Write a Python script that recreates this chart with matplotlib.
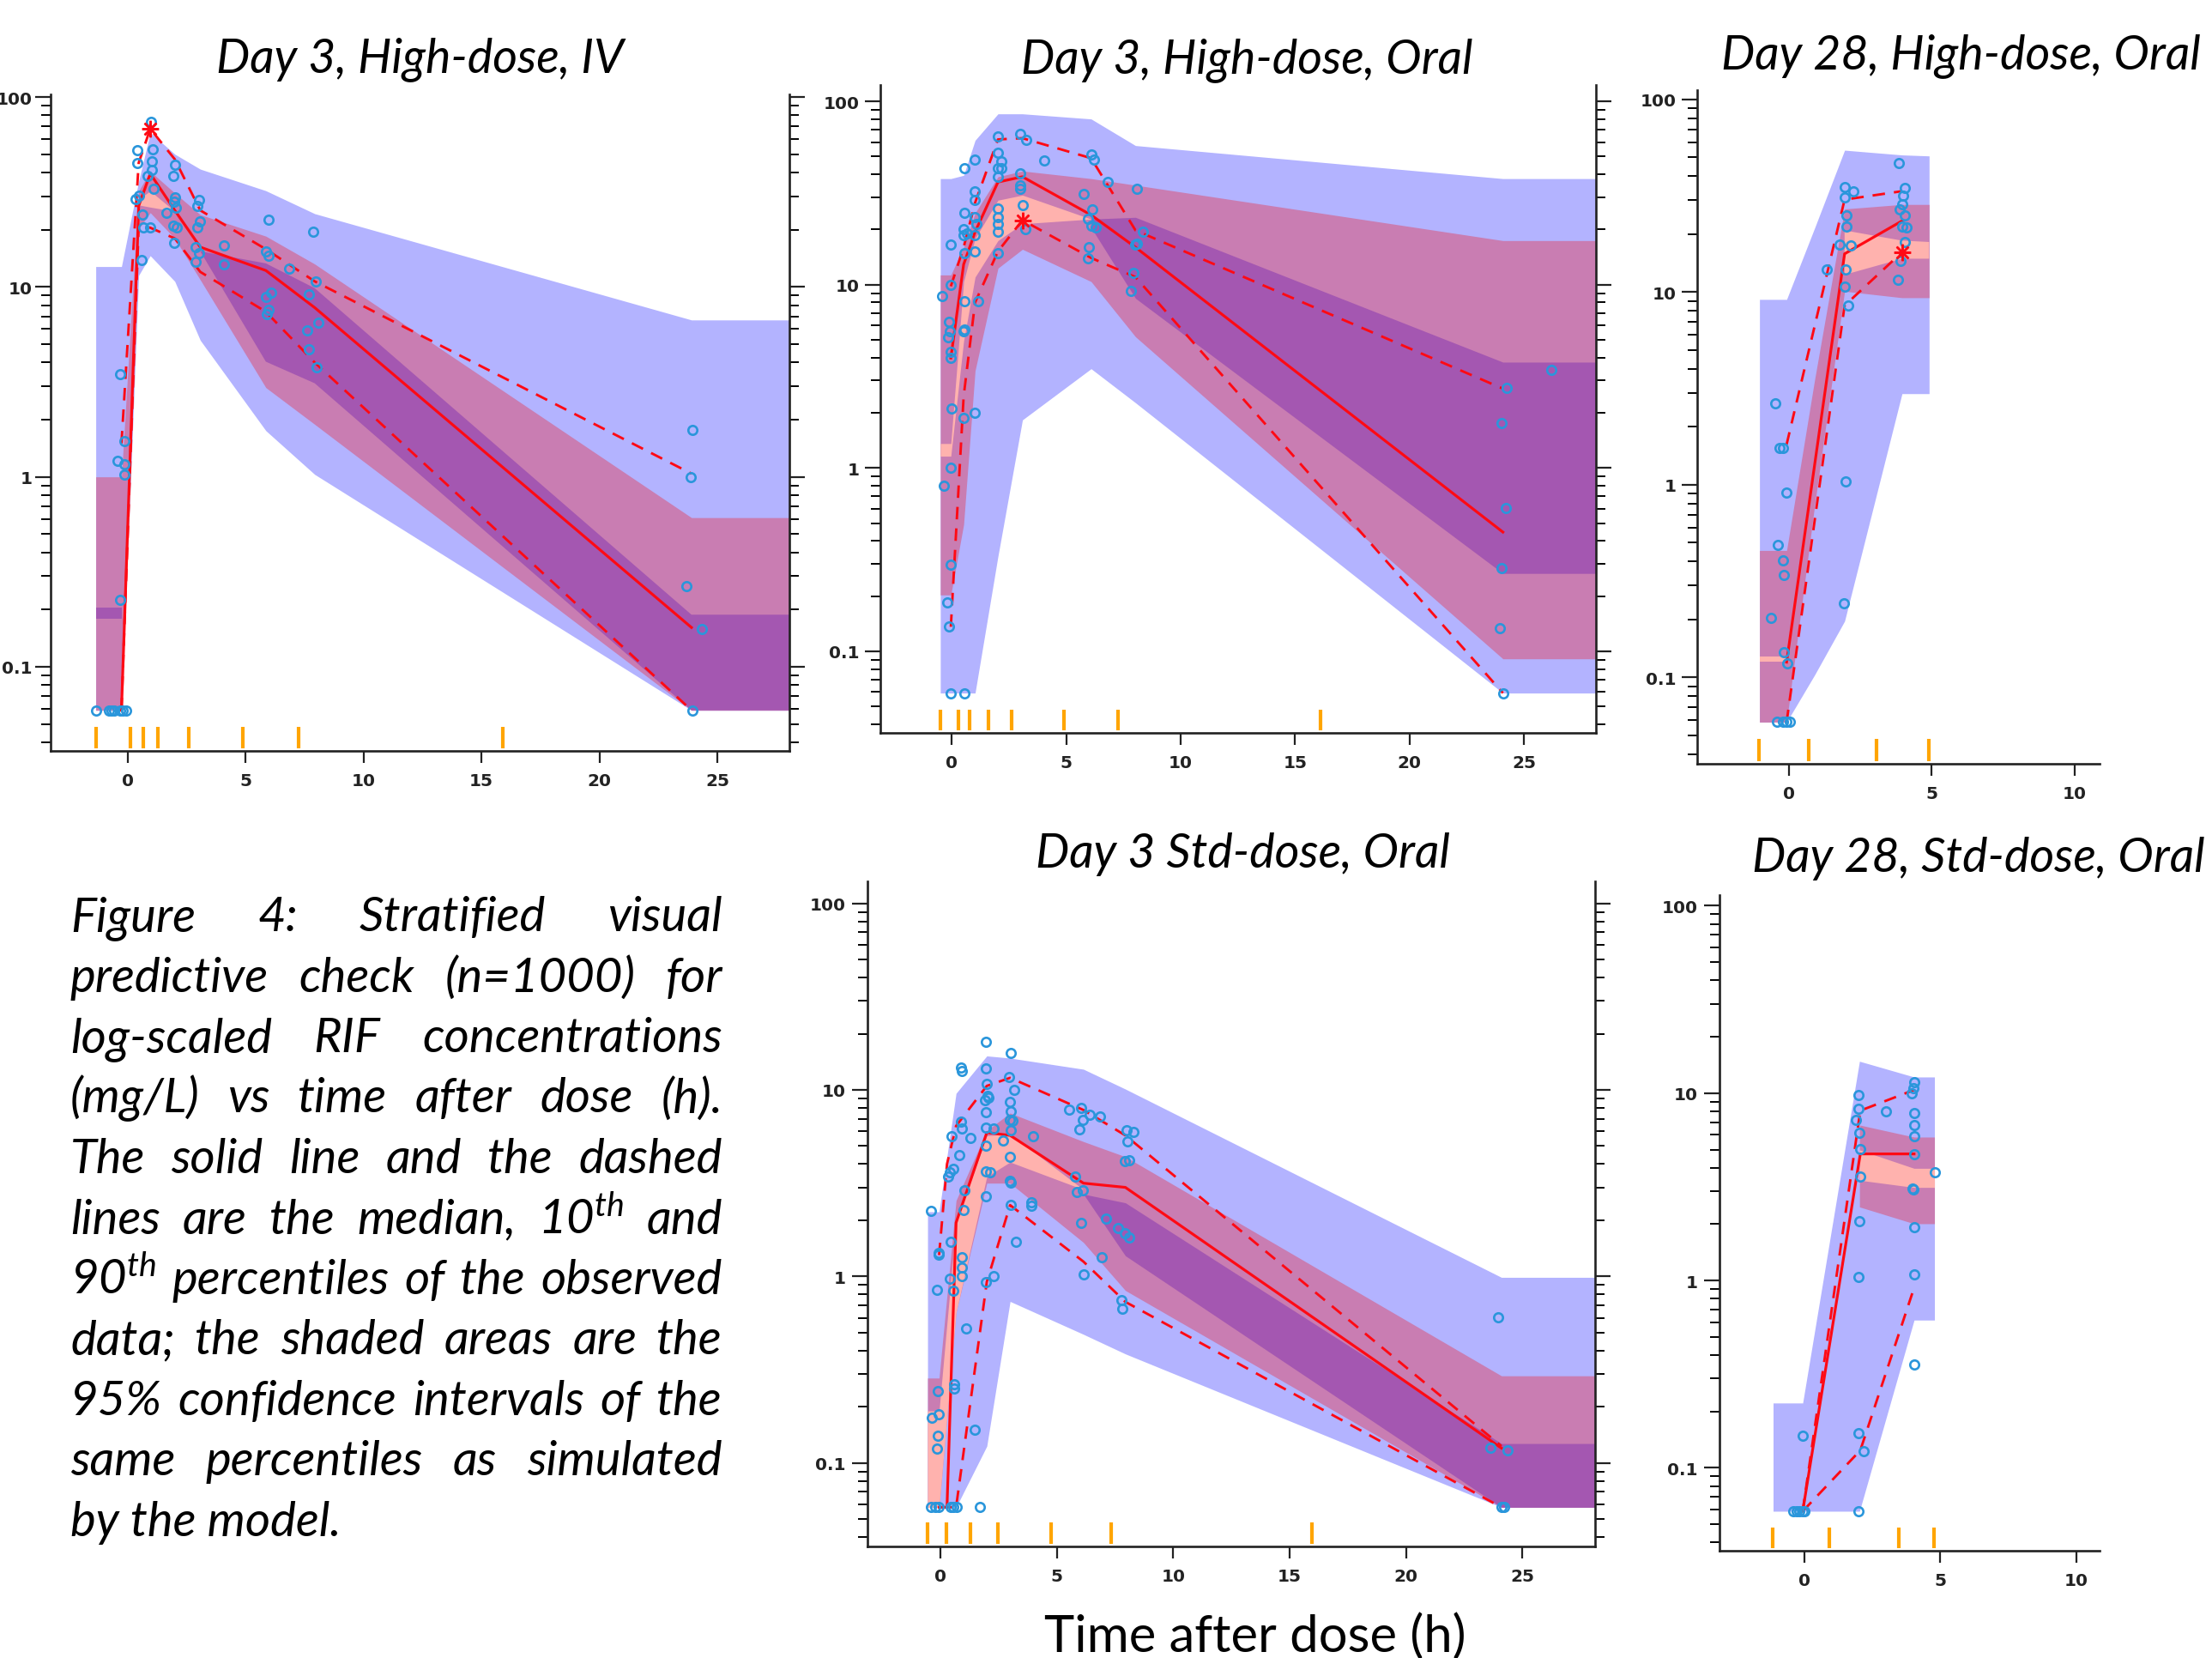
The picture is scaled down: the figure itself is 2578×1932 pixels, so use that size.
import numpy as np
import matplotlib
matplotlib.use('Agg')
import matplotlib.pyplot as plt
from matplotlib.ticker import FixedLocator, FixedFormatter, NullFormatter

nan = np.nan

# ---------------- panel 1: Day 3, High-dose, IV ----------------
p1_band_t = [-1.35, -0.26, 0.47, 0.96, 2.0, 3.08, 5.86, 7.93, 23.9, 28.05]
p1_blue_hi = [12.8, 12.8, 36, 65, 50, 41.7, 32.1, 24.3, 6.7, 6.7]
p1_blue_lo = [0.059, 0.059, 11.5, 14.6, 10.7, 5.24, 1.75, 1.03, 0.059, 0.059]
p1_mauve_hi = [1.0, 1.0, 32, 40.6, 31.2, 24.0, 18.5, 13.2, 0.61, 0.61]
p1_mauve_lo = [0.059, 0.059, 20.2, 24.6, 18.0, 10.9, 2.95, 1.89, 0.059, 0.059]
p1_purple_hi = [0.204, 0.204, nan, nan, nan, 15.4, 13.3, 9.85, 0.188, 0.188]
p1_purple_lo = [0.179, 0.179, nan, nan, nan, 15.4, 4.04, 3.11, 0.059, 0.059]
p1_salmon_hi = [nan, nan, 29, 32, 25, nan, nan, nan, nan, nan]
p1_salmon_lo = [nan, nan, 27, 26.3, 25, nan, nan, nan, nan, nan]
p1_line_t = [-0.26, 0.47, 0.96, 2.0, 3.08, 5.86, 7.93, 23.9]
p1_median = [0.059, 26.7, 39.5, 25.3, 16.2, 12.2, 7.78, 0.161]
p1_p90 = [1.5, 45, 68, 47, 25.3, 15.8, 10.7, 1.04]
p1_p10 = [0.059, 21, 20.5, 18, 12, 7.4, 4.0, 0.059]
p1_star = [0.96, 68]
p1_bins = [-1.35, 0.11, 0.65, 1.29, 2.59, 4.87, 7.26, 15.9]
p1_obs_t = [-1.35, -0.80, -0.68, -0.56, -0.32, -0.19, -0.07, -0.32, -0.44, -0.14, -0.14, -0.13, -0.30,
            0.59, 0.41, 0.41, 0.35, 0.47, 0.63, 0.65, 0.96, 0.99, 1.07, 1.04, 1.04, 0.84, 1.11, 1.64,
            2.0, 1.95, 2.0, 1.97, 2.05, 1.93, 2.1, 1.99, 3.02, 2.96, 3.08, 2.96, 2.9, 3.02, 2.9,
            4.07, 4.07, 5.96, 5.86, 5.96, 6.83, 5.86, 6.1, 5.98, 5.92,
            7.86, 7.98, 7.7, 8.1, 7.6, 7.7, 8.0, 23.95, 23.87, 23.69, 24.35, 23.95]
p1_obs_c = [0.059, 0.059, 0.059, 0.059, 0.059, 0.059, 0.059, 0.224, 1.22, 1.16, 1.03, 1.55, 3.49,
            13.8, 52.7, 45, 28.9, 30.3, 24, 20.5, 20.5, 74, 53, 46, 41.5, 38.5, 32.9, 24.6,
            43.8, 38.5, 29.6, 28.1, 26, 21.1, 20.5, 17.1, 28.8, 26.7, 22.2, 20.5, 16.2, 15.0, 13.5,
            16.5, 13.1, 22.5, 15.4, 14.6, 12.5, 8.87, 9.3, 7.6, 7.2,
            19.5, 10.7, 9.1, 6.5, 5.9, 4.7, 3.78, 1.77, 1.0, 0.267, 0.158, 0.059]

# ---------------- panel 2: Day 3, High-dose, Oral ----------------
p2_band_t = [-0.51, -0.05, 0.51, 1.01, 2.01, 3.08, 6.08, 8.02, 24.08, 28.13]
p2_blue_hi = [37.9, 37.9, 39.5, 61.3, 85.5, 85.5, 80.2, 57.4, 37.9, 37.9]
p2_blue_lo = [0.0592, 0.0592, 0.0592, 0.0592, 0.33, 1.83, 3.48, 2.27, 0.0592, 0.0592]
p2_mauve_hi = [11.3, 11.3, 16.0, 24.6, 38.8, 41.7, 37.9, 34.9, 17.4, 17.4]
p2_mauve_lo = [0.203, 0.203, 0.492, 3.39, 12.3, 15.6, 10.4, 5.2, 0.091, 0.091]
p2_purple_hi = [nan, nan, nan, nan, nan, nan, 22.8, 23.3, 3.78, 3.78]
p2_purple_lo = [nan, nan, nan, nan, nan, nan, 20.5, 8.43, 0.266, 0.266]
p2_salmon_hi = [1.36, 1.36, 10.4, 17.9, 28.9, 30.8, 22.8, nan, nan, nan]
p2_salmon_lo = [1.16, 1.16, 4.93, 11.0, 17.4, 21.5, 22.8, nan, nan, nan]
p2_line_t = [-0.05, 0.51, 1.01, 2.01, 3.08, 6.08, 8.02, 24.08]
p2_median = [3.98, 12.9, 19.4, 36.3, 38.8, 24.0, 16.0, 0.447]
p2_p90 = [9.8, 16, 28, 62, 63, 49, 19.8, 2.71]
p2_p10 = [0.136, 2.46, 8.0, 15.2, 22.5, 14.0, 11.0, 0.0592]
p2_star = [3.08, 22.5]
p2_bins = [-0.51, 0.30, 0.77, 1.58, 2.6, 4.89, 7.26, 16.1]
p2_obs_t = [-0.05, 0.54, -0.13, -0.21, -0.05, -0.36, -0.05, -0.01, 0.51, 1.01, -0.05, -0.07, -0.17, -0.11,
            -0.13, -0.42, -0.05, 0.54, 1.16, 0.54, 0.51, -0.07, 0.54, 1.01, 0.51, 0.64, 0.51, 1.01, 1.07,
            1.01, 1.01, 1.01, 0.54, 0.54, 0.99,
            1.99, 2.01, 2.14, 2.01, 2.16, 2.01, 1.99, 2.01, 1.99, 2.01, 2.01,
            3.0, 3.24, 3.0, 3.0, 3.0, 3.11, 3.2, 4.04,
            5.74, 6.08, 6.2, 6.14, 5.95, 6.08, 6.27, 6.0, 5.95, 6.79,
            8.1, 8.33, 8.02, 7.95, 7.83, 8.07,
            24.25, 24.02, 24.21, 24.02, 23.96, 24.08, 26.21]
p2_obs_c = [0.0592, 0.0592, 0.136, 0.185, 0.296, 0.80, 1.0, 2.11, 1.88, 2.01, 3.98, 4.32, 5.15, 5.55,
            6.28, 8.67, 10.0, 8.1, 8.1, 5.7, 5.55, 16.5, 14.8, 15.2, 20.0, 19.0, 18.6, 18.6, 21.5,
            23.3, 28.9, 32.2, 24.7, 43.2, 48.2,
            64.7, 52.2, 46.9, 43.2, 43.2, 38.8, 26.0, 23.3, 21.5, 19.4, 14.8,
            66.4, 61.9, 40.4, 34.9, 33.3, 27.1, 20.1, 47.4,
            31.3, 51.4, 48.2, 25.7, 22.8, 21.0, 20.5, 16.0, 14.0, 36.4,
            33.4, 19.5, 16.5, 11.6, 9.2, 16.8,
            2.73, 1.76, 0.603, 0.285, 0.134, 0.0592, 3.44]

# ---------------- panel 3: Day 28, High-dose, Oral ----------------
p3_band_t = [-1.03, -0.08, 0.9, 1.95, 3.96, 4.91]
p3_blue_hi = [9.16, 9.16, 21.5, 54.5, 51.5, 50.9]
p3_blue_lo = [0.0586, 0.0586, 0.103, 0.196, 2.97, 2.97]
p3_mauve_hi = [0.456, 0.456, 3.5, 27, 28.5, 28.5]
p3_mauve_lo = [0.0586, 0.0586, 0.78, 10.1, 9.35, 9.35]
p3_purple_hi = [nan, nan, nan, nan, nan, nan]
p3_purple_lo = [nan, nan, nan, nan, nan, nan]
p3_salmon_hi = [0.129, 0.129, nan, 20.9, 18.5, 18.2]
p3_salmon_lo = [0.121, 0.121, nan, 12.3, 14.9, 14.9]
p3_line_t = [-0.08, 1.95, 3.96]
p3_median = [0.120, 15.8, 23.4]
p3_p90 = [1.62, 30.2, 33.4]
p3_p10 = [0.0586, 8.51, 16.1]
p3_star = [3.96, 16.1]
p3_bins = [-1.06, 0.69, 3.08, 4.91]
p3_obs_t = [-0.42, -0.22, -0.08, 0.03, -0.62, -0.05, -0.19, -0.18, -0.22, -0.38, -0.08, -0.33, -0.22, -0.49,
            1.93, 1.98, 1.34, 1.98, 1.79, 2.16, 1.95, 2.09, 2.02, 2.02, 1.95, 1.95, 2.27,
            3.85, 4.06, 3.99, 3.96, 3.88, 4.05, 3.96, 4.12, 4.06, 3.92, 3.83]
p3_obs_c = [0.0586, 0.0586, 0.0586, 0.0586, 0.204, 0.118, 0.135, 0.340, 0.403, 0.489, 0.912, 1.55, 1.55, 2.64,
            0.243, 1.04, 13.1, 13.1, 17.7, 17.4, 10.7, 8.5, 25.1, 21.8, 31.0, 35.2, 33.4,
            46.6, 34.8, 31.6, 28.5, 27.0, 25.0, 21.8, 21.6, 18.2, 14.5, 11.6]

# ---------------- panel 4: Day 3 Std-dose, Oral ----------------
p4_band_t = [-0.545, -0.05, 0.68, 2.0, 3.0, 6.15, 7.95, 24.1, 28.11]
p4_blue_hi = [2.22, 2.22, 9.58, 15.2, 14.8, 12.9, 10.1, 0.988, 0.988]
p4_blue_lo = [0.0578, 0.0578, 0.0578, 0.123, 0.734, 0.489, 0.384, 0.0578, 0.0578]
p4_mauve_hi = [0.285, 0.285, 2.55, 6.05, 7.51, 5.28, 4.38, 0.293, 0.293]
p4_mauve_lo = [0.0578, 0.0578, 0.64, 3.16, 3.16, 1.52, 0.84, 0.0578, 0.0578]
p4_purple_hi = [nan, nan, nan, nan, nan, 2.76, 2.48, 0.127, 0.127]
p4_purple_lo = [nan, nan, nan, nan, nan, 2.76, 1.29, 0.0578, 0.0578]
p4_salmon_hi = [0.19, 0.19, 1.94, 5.68, 5.8, 2.92, nan, nan, nan]
p4_salmon_lo = [0.0578, 0.0578, 0.64, 3.43, 4.1, 2.92, nan, nan, nan]
p4_line_t = [-0.05, 0.29, 0.68, 2.0, 3.0, 6.15, 7.95, 24.1]
p4_median = [0.0578, 0.0578, 1.94, 5.9, 5.7, 3.16, 3.0, 0.12]
p4_p90 = [1.3, 4.0, 6.4, 10.5, 11.6, 7.8, 5.7, 0.123]
p4_p10 = [0.0578, 0.0578, 0.0578, 0.935, 2.41, 1.2, 0.73, 0.0578]
p4_star = None
p4_bins = [-0.545, 0.277, 1.28, 2.46, 4.76, 7.34, 15.96]
p4_obs_t = [-0.40, -0.21, -0.05, 0.44, 0.57, 0.69, 1.72, -0.40, -0.05, -0.05, -0.13, -0.37, -0.05, -0.09,
            -0.09, -0.13, 0.46, 0.40, 0.55, 0.34, 0.40, 0.55, 0.48, 0.58, 0.60,
            0.89, 0.91, 0.89, 0.91, 0.83, 1.05, 1.0, 0.94, 0.91, 0.94, 1.1, 1.47, 1.31,
            1.97, 1.97, 2.0, 2.02, 2.06, 1.94, 1.97, 1.97, 2.3, 1.97, 1.96, 2.13, 1.96, 1.97, 2.28, 2.7,
            3.02, 2.94, 3.16, 2.98, 3.02, 2.98, 3.1, 3.02, 2.98, 2.98, 3.02, 3.02, 3.26, 3.97, 3.9, 3.9,
            5.54, 6.05, 6.11, 5.99, 6.42, 6.85, 5.8, 5.86, 6.11, 6.05, 6.17, 7.1, 6.94,
            8.0, 8.3, 8.04, 7.92, 8.1, 7.64, 7.92, 8.13, 7.77, 7.83,
            23.96, 23.61, 24.35, 24.1, 24.2]
p4_obs_c = [0.0578, 0.0578, 0.0578, 0.0578, 0.0578, 0.0578, 0.0578, 2.25, 1.31, 1.34, 0.849, 0.175, 0.183, 0.242,
            0.14, 0.119, 1.54, 0.97, 0.84, 3.43, 3.6, 3.78, 5.66, 0.263, 0.25,
            13.1, 12.6, 6.74, 6.21, 4.49, 2.88, 2.28, 1.27, 1.11, 1.0, 0.523, 0.151, 5.52,
            18.1, 13.0, 10.8, 9.31, 9.1, 8.8, 7.59, 6.28, 6.2, 5.0, 3.66, 3.6, 2.69, 0.935, 1.0, 5.33,
            15.8, 11.7, 9.97, 8.59, 7.71, 6.92, 6.8, 6.05, 4.37, 3.25, 3.2, 2.41, 1.54, 5.64, 2.5, 2.4,
            7.8, 8.0, 6.92, 6.15, 7.38, 7.22, 3.43, 2.84, 2.9, 1.94, 1.02, 2.03, 1.27,
            6.05, 5.92, 5.28, 4.14, 4.2, 1.81, 1.71, 1.61, 0.746, 0.67,
            0.601, 0.12, 0.117, 0.0578, 0.0578]

# ---------------- panel 5: Day 28, Std-dose, Oral ----------------
p5_band_t = [-1.16, -0.07, 2.02, 4.03, 4.78]
p5_blue_hi = [0.222, 0.222, 14.8, 12.2, 12.2]
p5_blue_lo = [0.0587, 0.0587, 0.0587, 0.615, 0.615]
p5_mauve_hi = [nan, nan, 6.76, 5.83, 5.83]
p5_mauve_lo = [nan, nan, 2.47, 2.01, 2.01]
p5_purple_hi = [nan, nan, nan, nan, nan]
p5_purple_lo = [nan, nan, nan, nan, nan]
p5_salmon_hi = [nan, nan, 4.98, 3.97, 3.97]
p5_salmon_lo = [nan, nan, 3.43, 3.14, 3.14]
p5_line_t = [-0.07, 2.05, 4.03]
p5_median = [0.0587, 4.74, 4.74]
p5_p90 = [0.0587, 8.07, 10.4]
p5_p10 = [0.0587, 0.124, 0.914]
p5_star = None
p5_bins = [-1.19, 0.92, 3.48, 4.75]
p5_obs_t = [-0.41, -0.3, -0.2, -0.07, 0.0, 1.98, -0.07, 1.98, 2.16, 1.98, 2.02, 2.05, 2.05, 2.02, 1.89,
            1.98, 1.98, 3.0, 4.03, 4.0, 3.93, 4.03, 4.03, 4.03, 4.03, 3.96, 3.99, 4.03, 4.03, 4.03, 4.81]
p5_obs_c = [0.0587, 0.0587, 0.0587, 0.0587, 0.0587, 0.0587, 0.149, 0.153, 0.123, 1.05, 2.07, 3.59, 5.04, 6.12, 7.18,
            8.22, 9.77, 7.98, 11.4, 10.6, 10.0, 7.85, 6.76, 5.9, 4.74, 3.1, 3.05, 1.92, 1.08, 0.357, 3.78]

titles = ["Day 3, High-dose, IV", "Day 3, High-dose, Oral", "Day 28, High-dose, Oral",
          "Day 3 Std-dose, Oral", "Day 28, Std-dose, Oral"]

caption_lines = [
    ["Figure", "4:", "Stratified", "visual"],
    ["predictive", "check", "(n=1000)", "for"],
    ["log-scaled", "RIF", "concentrations"],
    ["(mg/L)", "vs", "time", "after", "dose", "(h)."],
    ["The", "solid", "line", "and", "the", "dashed"],
    ["lines", "are", "the", "median,", r"10$^{\mathrm{th}}$", "and"],
    [r"90$^{\mathrm{th}}$", "percentiles", "of", "the", "observed"],
    ["data;", "the", "shaded", "areas", "are", "the"],
    ["95%", "confidence", "intervals", "of", "the"],
    ["same", "percentiles", "as", "simulated"],
    ["by the model."],
]

BLUE = '#B3B3FF'
MAUVE = '#C97DB2'
PURPLE = '#A457B1'
SALMON = '#FFB2AE'
RED = '#FF0A14'
PT = '#2A96DB'

plt.rcParams['font.family'] = 'DejaVu Sans'
plt.rcParams['mathtext.fontset'] = 'custom'
plt.rcParams['mathtext.rm'] = 'Lato:italic'
plt.rcParams['mathtext.it'] = 'Lato:italic'

W, H = 2578, 1933
fig = plt.figure(figsize=(W / 100, H / 100), dpi=100)

# pixel boxes (left, top, right, bottom), log10 y-limits, x-limits, right axis?
panels = [
    dict(box=(58.8, 111, 920, 876), ylog=(-1.443, 2.0136), xlim=(-3.27, 28.05), right=True, xt=[0, 5, 10, 15, 20, 25],
         band_t=p1_band_t, bands=[(p1_blue_lo, p1_blue_hi), (p1_mauve_lo, p1_mauve_hi), (p1_purple_lo, p1_purple_hi), (p1_salmon_lo, p1_salmon_hi)],
         line_t=p1_line_t, med=p1_median, p90=p1_p90, p10=p1_p10, star=p1_star, bins=p1_bins, ot=p1_obs_t, oc=p1_obs_c,
         title=(titles[0], 490, 84), ypad=2),
    dict(box=(1026.3, 99.9, 1859.6, 855), ylog=(-1.445, 2.09), xlim=(-3.12, 28.13), right=True, xt=[0, 5, 10, 15, 20, 25],
         band_t=p2_band_t, bands=[(p2_blue_lo, p2_blue_hi), (p2_mauve_lo, p2_mauve_hi), (p2_purple_lo, p2_purple_hi), (p2_salmon_lo, p2_salmon_hi)],
         line_t=p2_line_t, med=p2_median, p90=p2_p90, p10=p2_p10, star=p2_star, bins=p2_bins, ot=p2_obs_t, oc=p2_obs_c,
         title=(titles[1], 1453, 85.5), ypad=5),
    dict(box=(1978.4, 106.3, 2447, 890.7), ylog=(-1.447, 2.047), xlim=(-3.2, 10.88), right=False, xt=[0, 5, 10],
         band_t=p3_band_t, bands=[(p3_blue_lo, p3_blue_hi), (p3_mauve_lo, p3_mauve_hi), (p3_purple_lo, p3_purple_hi), (p3_salmon_lo, p3_salmon_hi)],
         line_t=p3_line_t, med=p3_median, p90=p3_p90, p10=p3_p10, star=p3_star, bins=p3_bins, ot=p3_obs_t, oc=p3_obs_c,
         title=(titles[2], 2285, 80.5), ypad=5),
    dict(box=(1010.6, 1028.4, 1858.7, 1802.8), ylog=(-1.447, 2.116), xlim=(-3.14, 28.11), right=True, xt=[0, 5, 10, 15, 20, 25],
         band_t=p4_band_t, bands=[(p4_blue_lo, p4_blue_hi), (p4_mauve_lo, p4_mauve_hi), (p4_purple_lo, p4_purple_hi), (p4_salmon_lo, p4_salmon_hi)],
         line_t=p4_line_t, med=p4_median, p90=p4_p90, p10=p4_p10, star=p4_star, bins=p4_bins, ot=p4_obs_t, oc=p4_obs_c,
         title=(titles[3], 1448, 1011), ypad=5),
    dict(box=(2003.8, 1043.6, 2447, 1808.4), ylog=(-1.444, 2.059), xlim=(-3.14, 10.86), right=False, xt=[0, 5, 10],
         band_t=p5_band_t, bands=[(p5_blue_lo, p5_blue_hi), (p5_mauve_lo, p5_mauve_hi), (p5_purple_lo, p5_purple_hi), (p5_salmon_lo, p5_salmon_hi)],
         line_t=p5_line_t, med=p5_median, p90=p5_p90, p10=p5_p10, star=p5_star, bins=p5_bins, ot=p5_obs_t, oc=p5_obs_c,
         title=(titles[4], 2306, 1016), ypad=5),
]

minor_vals = [k * 10.0 ** e for e in range(-2, 3) for k in range(2, 10)]

for p in panels:
    l, t, r, b = p['box']
    ax = fig.add_axes([l / W, 1 - b / H, (r - l) / W, (b - t) / H])
    ax.set_yscale('log')
    ax.set_ylim(10 ** p['ylog'][0], 10 ** p['ylog'][1])
    ax.set_xlim(*p['xlim'])

    for (lo, hi), col in zip(p['bands'], [BLUE, MAUVE, PURPLE, SALMON]):
        ax.fill_between(p['band_t'], lo, hi, color=col, lw=0, zorder=1)

    ax.vlines(p['bins'], 0.004, 0.036, transform=ax.get_xaxis_transform(),
              color='#FFA500', lw=3, zorder=2)

    ax.plot(p['line_t'], p['med'], color=RED, lw=2.3, zorder=3)
    ax.plot(p['line_t'], p['p90'], color=RED, lw=2.1, ls=(0, (5, 3.6)), zorder=3)
    ax.plot(p['line_t'], p['p10'], color=RED, lw=2.1, ls=(0, (5, 3.6)), zorder=3)
    ax.plot(p['ot'], p['oc'], 'o', mfc='none', mec=PT, ms=7.5, mew=1.9, zorder=4)
    if p['star'] is not None:
        ax.plot([p['star'][0]], [p['star'][1]], marker=(8, 2, 0), color=RED, ms=14, mew=1.8, zorder=5)

    ax.spines['top'].set_visible(False)
    ax.spines['right'].set_visible(p['right'])
    for s in ['left', 'bottom', 'right']:
        ax.spines[s].set_linewidth(1.9)
        ax.spines[s].set_color('#222222')

    ax.yaxis.set_major_locator(FixedLocator([0.1, 1, 10, 100]))
    ax.yaxis.set_major_formatter(FixedFormatter(['0.1', '1', '10', '100']))
    ax.yaxis.set_minor_locator(FixedLocator(minor_vals))
    ax.yaxis.set_minor_formatter(NullFormatter())
    ax.xaxis.set_major_locator(FixedLocator(p['xt']))
    ax.xaxis.set_major_formatter(FixedFormatter([str(v) for v in p['xt']]))
    ax.xaxis.set_minor_locator(FixedLocator([]))

    ax.tick_params(axis='y', which='major', direction='out', length=13, width=1.6,
                   left=True, right=p['right'], labelsize=14.5, pad=p['ypad'], colors='#222222')
    ax.tick_params(axis='y', which='minor', direction='out', length=8, width=1.4,
                   left=True, right=p['right'])
    ax.tick_params(axis='x', which='major', direction='out', length=10, width=1.6,
                   labelsize=14.5, pad=8, colors='#222222')
    for lab in ax.get_xticklabels() + ax.get_yticklabels():
        lab.set_fontweight('bold')

    txt, tx, ty = p['title']
    fig.text(tx / W, 1 - ty / H, txt, ha='center', va='baseline', fontsize=40,
             family='Lato', style='italic')

# caption, justified
cap_fs = 40.5
cap_x0, cap_x1 = 82, 842
cap_y0, cap_dy = 1085, 70.5
renderer = fig.canvas.get_renderer()
for i, words in enumerate(caption_lines):
    y = 1 - (cap_y0 + i * cap_dy) / H
    if len(words) == 1:
        fig.text(cap_x0 / W, y, words[0], ha='left', va='baseline', fontsize=cap_fs,
                 family='Lato', style='italic')
        continue
    items = [fig.text(0, y, w, ha='left', va='baseline', fontsize=cap_fs,
                      family='Lato', style='italic') for w in words]
    widths = [it.get_window_extent(renderer).width for it in items]
    gap = (cap_x1 - cap_x0 - sum(widths)) / (len(words) - 1)
    x = cap_x0
    for it, w in zip(items, widths):
        it.set_x(x / W)
        x += w + gap

fig.text(1463 / W, 1 - 1925 / H, "Time after dose (h)", ha='center', va='baseline',
         fontsize=43, family='Lato')

fig.savefig('out.png', dpi=100)
